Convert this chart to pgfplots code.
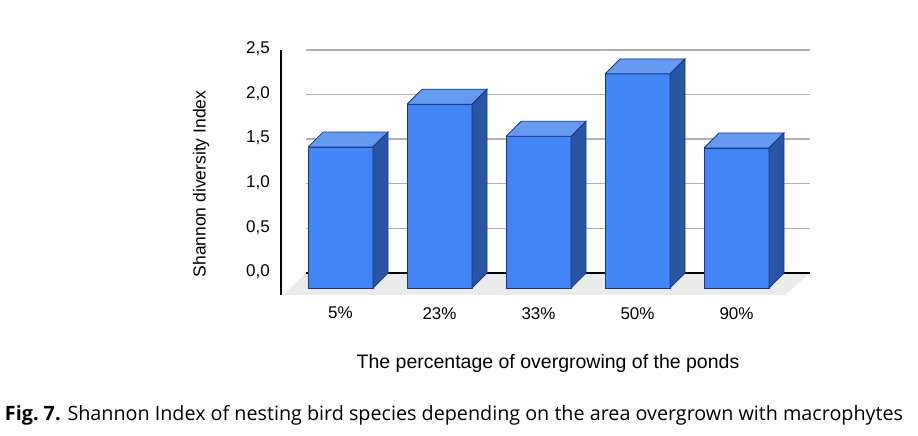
\documentclass[border=0pt]{standalone}
\usepackage{pgfplots}
\pgfplotsset{compat=1.18}
\usepackage{fontspec}
\setmainfont{Liberation Sans}
\newfontfamily\capfont{Open Sans}
\definecolor{frontc}{RGB}{66,133,244}
\definecolor{topc}{RGB}{102,154,240}
\definecolor{sidec}{RGB}{42,85,160}
\definecolor{edgec}{RGB}{24,54,140}
\definecolor{floorc}{RGB}{235,235,235}
\definecolor{gridc}{RGB}{176,176,176}
\begin{document}
\begin{tikzpicture}[x=1pt,y=1pt]
\useasboundingbox (0,0) rectangle (918,436);
\begin{axis}[
  at={(281pt,141pt)}, anchor=south west,
  scale only axis, width=529pt, height=245pt,
  xmin=-0.601, xmax=4.742, ymin=-0.247, ymax=2.5,
  clip=false,
  axis lines=left,
  axis line style={-, line width=1.2pt, black},
  x axis line style={draw=none},
  major tick length=0pt,
  xtick={0,1,2,3,4},
  xticklabels={5\%,23\%,33\%,50\%,90\%},
  ytick={0,0.5,1,1.5,2,2.5},
  /pgf/number format/use comma,
  /pgf/number format/fixed,
  /pgf/number format/fixed zerofill,
  /pgf/number format/precision=1,
  /pgf/number format/assume math mode=true,
  ticklabel style={font=\fontsize{17}{20}\selectfont},
  yticklabel style={inner sep=0pt, anchor=east, xshift=-11pt, yshift=1pt},
  xticklabel style={inner sep=0pt, anchor=north, yshift=-12pt},
]
% floor
\addplot[fill=floorc, draw=none] coordinates {(-0.348,0) (4.742,0) (4.49,-0.247) (-0.581,-0.247) (-0.348,0)};
% gridlines
\addplot[gridc, line width=1.4pt] coordinates {(-0.348,0.5) (4.742,0.5)};
\addplot[gridc, line width=1.4pt] coordinates {(-0.348,1.0) (4.742,1.0)};
\addplot[gridc, line width=1.4pt] coordinates {(-0.348,1.5) (4.742,1.5)};
\addplot[gridc, line width=1.4pt] coordinates {(-0.348,2.0) (4.742,2.0)};
\addplot[gridc, line width=1.4pt] coordinates {(-0.348,2.5) (4.742,2.5)};
\addplot[black, line width=1.6pt] coordinates {(-0.348,0) (4.742,0)};
% bar 1: 5% (1.58)
\addplot[fill=frontc, draw=edgec, line width=0.8pt] coordinates {(-0.328,-0.168) (0.328,-0.168) (0.328,1.412) (-0.328,1.412) (-0.328,-0.168)};
\addplot[fill=topc, draw=edgec, line width=0.8pt] coordinates {(-0.328,1.412) (0.328,1.412) (0.480,1.58) (-0.176,1.58) (-0.328,1.412)};
\addplot[fill=sidec, draw=edgec, line width=0.8pt] coordinates {(0.328,-0.168) (0.480,0) (0.480,1.58) (0.328,1.412) (0.328,-0.168)};
% bar 2: 23% (2.06)
\addplot[fill=frontc, draw=edgec, line width=0.8pt] coordinates {(0.672,-0.168) (1.328,-0.168) (1.328,1.892) (0.672,1.892) (0.672,-0.168)};
\addplot[fill=topc, draw=edgec, line width=0.8pt] coordinates {(0.672,1.892) (1.328,1.892) (1.480,2.06) (0.824,2.06) (0.672,1.892)};
\addplot[fill=sidec, draw=edgec, line width=0.8pt] coordinates {(1.328,-0.168) (1.480,0) (1.480,2.06) (1.328,1.892) (1.328,-0.168)};
% bar 3: 33% (1.70)
\addplot[fill=frontc, draw=edgec, line width=0.8pt] coordinates {(1.672,-0.168) (2.328,-0.168) (2.328,1.532) (1.672,1.532) (1.672,-0.168)};
\addplot[fill=topc, draw=edgec, line width=0.8pt] coordinates {(1.672,1.532) (2.328,1.532) (2.480,1.70) (1.824,1.70) (1.672,1.532)};
\addplot[fill=sidec, draw=edgec, line width=0.8pt] coordinates {(2.328,-0.168) (2.480,0) (2.480,1.70) (2.328,1.532) (2.328,-0.168)};
% bar 4: 50% (2.40)
\addplot[fill=frontc, draw=edgec, line width=0.8pt] coordinates {(2.672,-0.168) (3.328,-0.168) (3.328,2.232) (2.672,2.232) (2.672,-0.168)};
\addplot[fill=topc, draw=edgec, line width=0.8pt] coordinates {(2.672,2.232) (3.328,2.232) (3.480,2.40) (2.824,2.40) (2.672,2.232)};
\addplot[fill=sidec, draw=edgec, line width=0.8pt] coordinates {(3.328,-0.168) (3.480,0) (3.480,2.40) (3.328,2.232) (3.328,-0.168)};
% bar 5: 90% (1.57)
\addplot[fill=frontc, draw=edgec, line width=0.8pt] coordinates {(3.672,-0.168) (4.328,-0.168) (4.328,1.402) (3.672,1.402) (3.672,-0.168)};
\addplot[fill=topc, draw=edgec, line width=0.8pt] coordinates {(3.672,1.402) (4.328,1.402) (4.480,1.57) (3.824,1.57) (3.672,1.402)};
\addplot[fill=sidec, draw=edgec, line width=0.8pt] coordinates {(4.328,-0.168) (4.480,0) (4.480,1.57) (4.328,1.402) (4.328,-0.168)};
\end{axis}
\node[rotate=90, font=\fontsize{17.5}{20}\selectfont] at (201,252) {Shannon diversity Index};
\node[font=\fontsize{19.5}{22}\selectfont] at (548,73) {The percentage of overgrowing of the ponds};
\node[inner sep=0pt] at (454,21) {\resizebox{898pt}{!}{\capfont\fontsize{18}{22}\selectfont\textbf{Fig.\ 7.} Shannon Index of nesting bird species depending on the area overgrown with macrophytes}};
\end{tikzpicture}
\end{document}
